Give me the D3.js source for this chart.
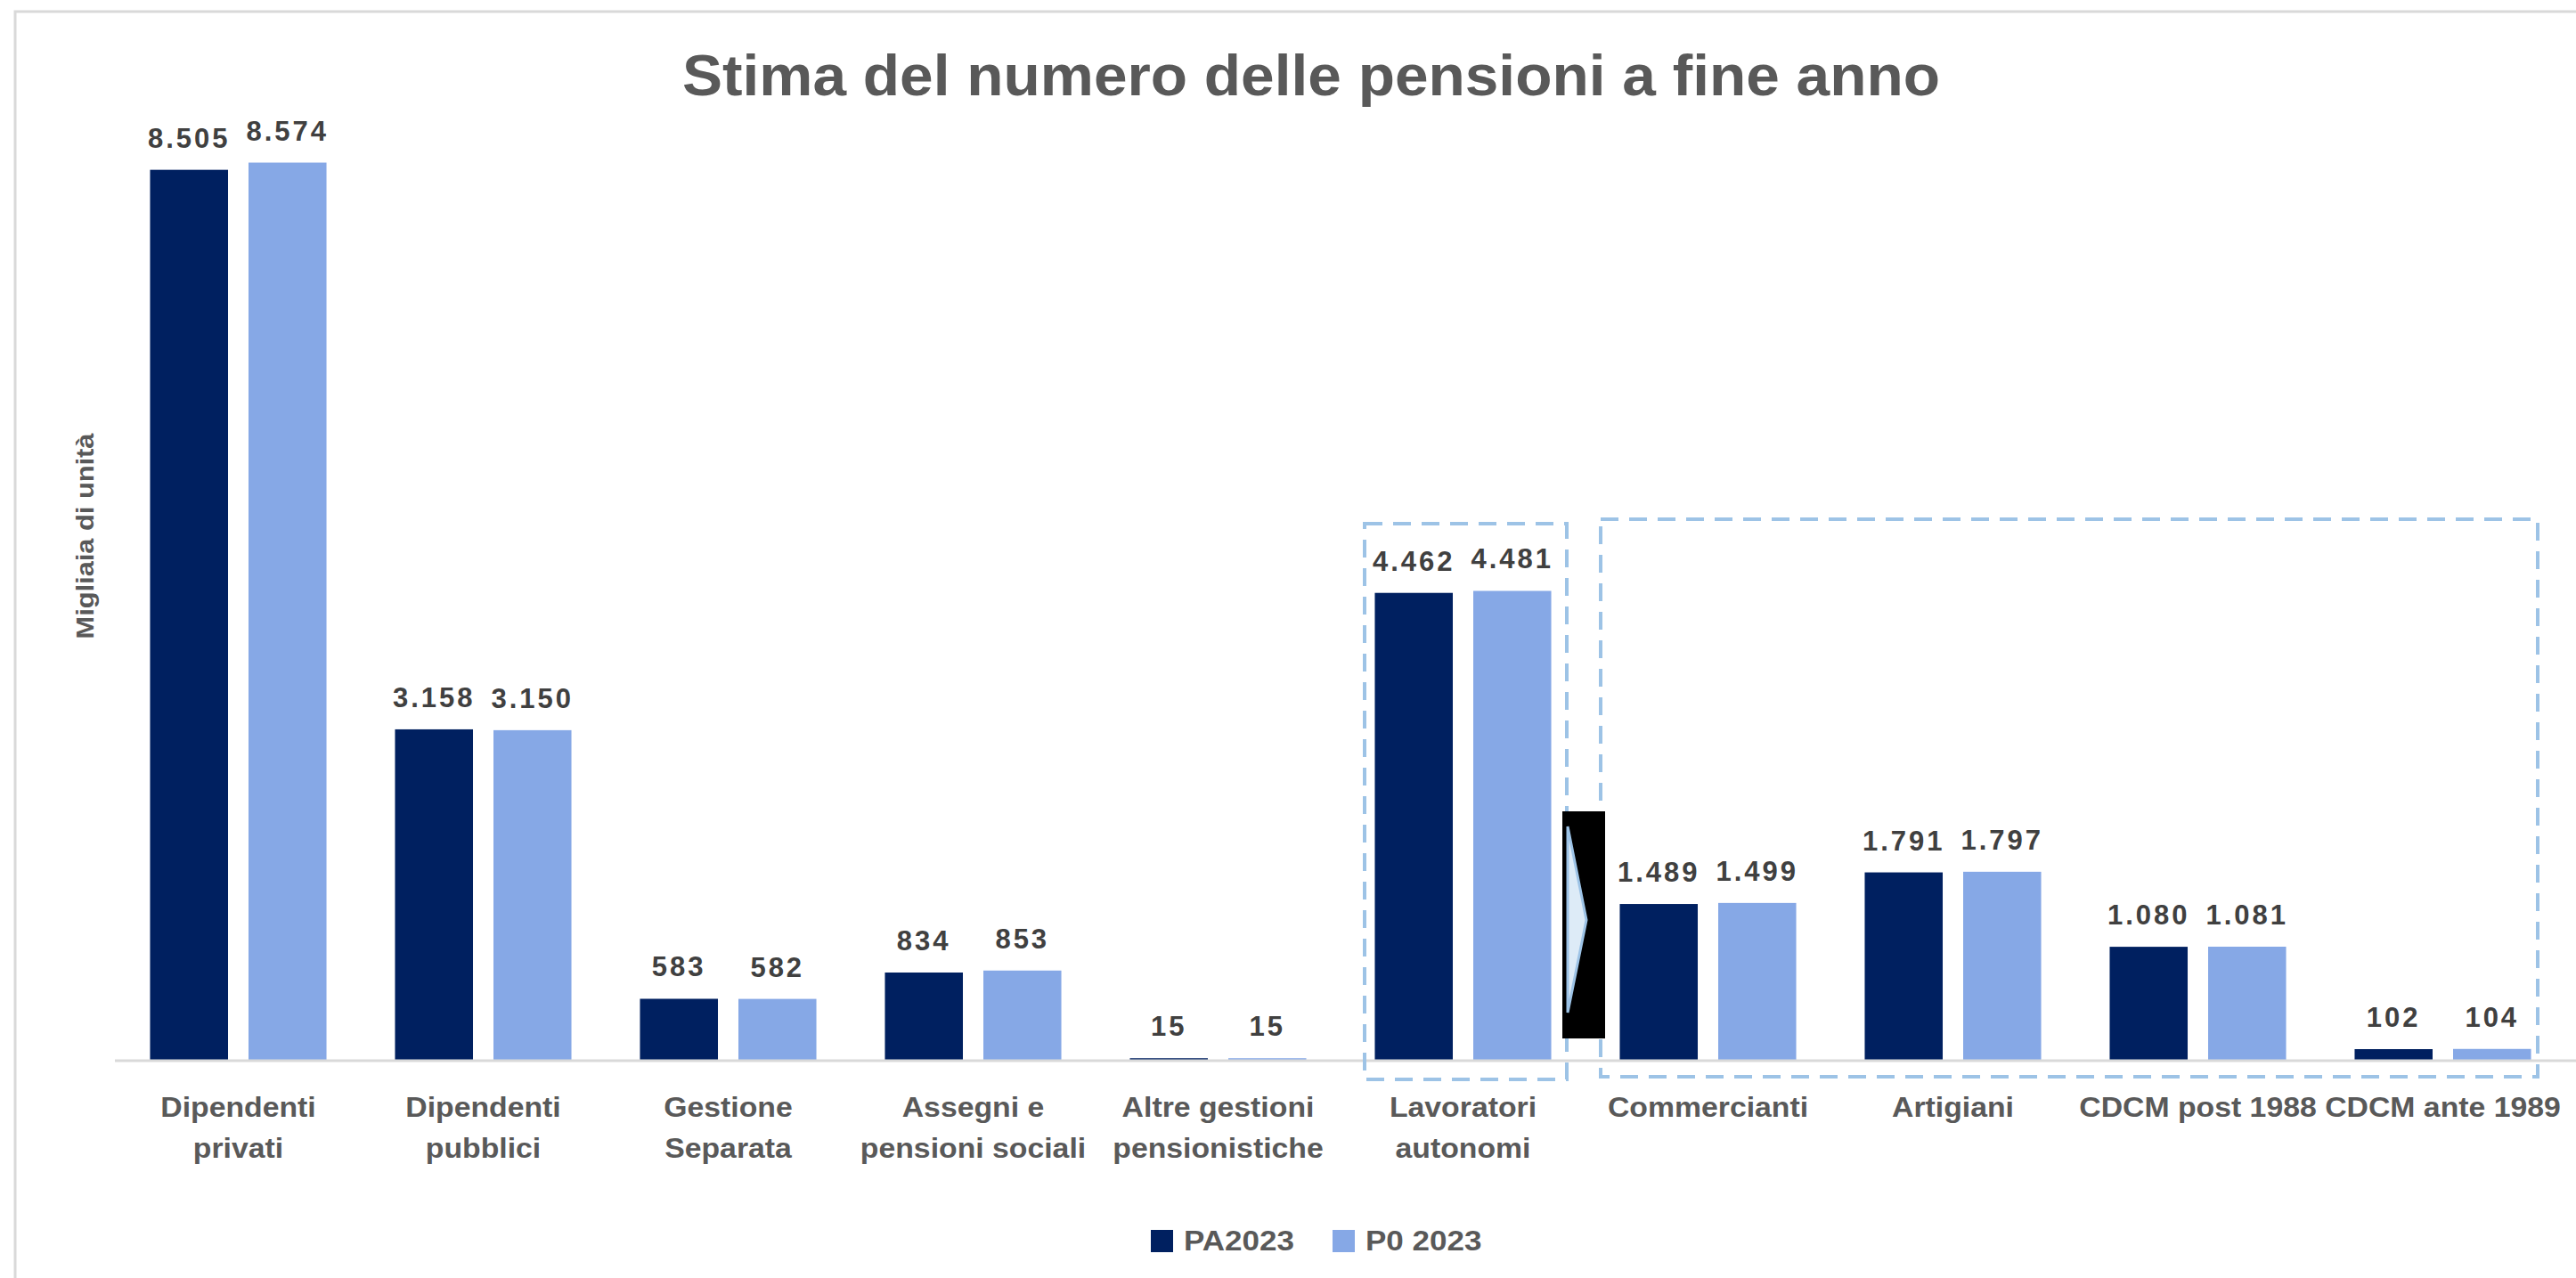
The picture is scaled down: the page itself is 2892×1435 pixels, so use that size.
<!DOCTYPE html>
<html>
<head>
<meta charset="utf-8">
<script src="https://cdn.jsdelivr.net/npm/d3@7"></script>
<style>
  body { margin: 0; background: #fff; }
  text { font-family: "Liberation Sans", Arial, sans-serif; font-weight: bold; }
</style>
</head>
<body>
<div id="chart"></div>
<script>
// data
var categories = ["Dipendenti privati", "Dipendenti pubblici", "Gestione Separata",
  "Assegni e pensioni sociali", "Altre gestioni pensionistiche", "Lavoratori autonomi",
  "Commercianti", "Artigiani", "CDCM post 1988", "CDCM ante 1989"];
var tickLabels = [["Dipendenti", "privati"], ["Dipendenti", "pubblici"], ["Gestione", "Separata"],
  ["Assegni e", "pensioni sociali"], ["Altre gestioni", "pensionistiche"], ["Lavoratori", "autonomi"],
  ["Commercianti"], ["Artigiani"], ["CDCM post 1988"], ["CDCM ante 1989"]];
var seriesNames = ["PA2023", "P0 2023"];
var pa2023 = [8505, 3158, 583, 834, 15, 4462, 1489, 1791, 1080, 102];
var p02023 = [8574, 3150, 582, 853, 15, 4481, 1499, 1797, 1081, 104];

var colors = ["#002060", "#86A8E6"];
var W = 2892, H = 1435;
var base = 1190;
var stretch = 1.09; // the original text is a little wider than Arial

var fmt = d3.formatLocale({decimal: ",", thousands: ".", grouping: [3], currency: ["", "€"]}).format(",d");

var svg = d3.select("#chart").append("svg")
  .attr("width", W).attr("height", H);

// outer frame
svg.append("rect")
  .attr("x", 17).attr("y", 13).attr("width", W + 20).attr("height", H + 20)
  .attr("fill", "none").attr("stroke", "#d9d9d9").attr("stroke-width", 3);

var x = d3.scaleBand().domain(categories).range([130, 2880]);
var xSub = d3.scaleBand().domain(seriesNames).range([0, x.bandwidth()])
  .paddingInner(0.208).paddingOuter(0.348);
var y = d3.scaleLinear().domain([0, 9000]).range([base, base - 9000 * 0.1175]);

// title
svg.append("text")
  .attr("transform", "translate(1472,107) scale(1.04,1)")
  .attr("text-anchor", "middle")
  .attr("font-size", 65)
  .attr("fill", "#595959")
  .text("Stima del numero delle pensioni a fine anno");

// y axis title
svg.append("text")
  .attr("transform", "translate(105,602) rotate(-90) scale(1.1,1)")
  .attr("text-anchor", "middle")
  .attr("font-size", 28)
  .attr("fill", "#595959")
  .text("Migliaia di unità");

var rows = categories.map(function(c, i) {
  return {cat: c, vals: [pa2023[i], p02023[i]]};
});

var groups = svg.selectAll("g.grp")
  .data(rows)
  .enter().append("g")
  .attr("class", "grp")
  .attr("transform", d => "translate(" + x(d.cat) + ",0)");

var bars = groups.selectAll("g.bar")
  .data(d => d.vals.map((v, j) => ({name: seriesNames[j], v: v, j: j})))
  .enter().append("g");

bars.append("rect")
  .attr("x", d => xSub(d.name))
  .attr("width", xSub.bandwidth())
  .attr("y", d => y(d.v))
  .attr("height", d => base - y(d.v))
  .attr("fill", d => colors[d.j]);

bars.append("text")
  .attr("x", d => xSub(d.name) + xSub.bandwidth() / 2)
  .attr("y", d => y(d.v) - 25)
  .attr("text-anchor", "middle")
  .attr("font-size", 31)
  .attr("letter-spacing", 3)
  .attr("fill", "#404040")
  .text(d => fmt(d.v));

// axis line
svg.append("line")
  .attr("x1", 129).attr("x2", W)
  .attr("y1", base + 1).attr("y2", base + 1)
  .attr("stroke", "#d9d9d9").attr("stroke-width", 3);

// category labels
categories.forEach(function(c, i) {
  var cx = x(c) + x.bandwidth() / 2;
  var g = svg.append("g")
    .attr("transform", "translate(" + cx + ",0) scale(" + stretch + ",1)");
  tickLabels[i].forEach(function(line, k) {
    g.append("text")
      .attr("x", 0).attr("y", 1254 + k * 46)
      .attr("text-anchor", "middle")
      .attr("font-size", 31)
      .attr("fill", "#595959")
      .text(line);
  });
});

// dashed highlight boxes
var g5 = x(categories[5]), g6 = x(categories[6]), g9 = x(categories[9]);
svg.append("rect")
  .attr("x", g5 + 27).attr("y", 588)
  .attr("width", x.bandwidth() - 48).attr("height", 624)
  .attr("fill", "none").attr("stroke", "#9DC3E6")
  .attr("stroke-width", 4).attr("stroke-dasharray", "20,12");
svg.append("rect")
  .attr("x", g6 + 17).attr("y", 583)
  .attr("width", g9 + x.bandwidth() - 31 - (g6 + 17)).attr("height", 626)
  .attr("fill", "none").attr("stroke", "#9DC3E6")
  .attr("stroke-width", 4).attr("stroke-dasharray", "20,12");

// arrow marker between the two boxes
var ax = x(categories[6]);
svg.append("rect")
  .attr("x", ax - 26).attr("y", 911)
  .attr("width", 48).attr("height", 255)
  .attr("fill", "#000");
svg.append("path")
  .attr("d", "M" + (ax - 20) + ",928 L" + (ax + 1) + ",1033 L" + (ax - 20) + ",1137 Z")
  .attr("fill", "#DDEBF7").attr("stroke", "#9DC3E6").attr("stroke-width", 3);

// legend
var legend = svg.append("g");
var lx = [1292, 1496];
seriesNames.forEach(function(s, i) {
  legend.append("rect")
    .attr("x", lx[i]).attr("y", 1381)
    .attr("width", 25).attr("height", 25)
    .attr("fill", colors[i]);
  legend.append("text")
    .attr("transform", "translate(" + (lx[i] + 37) + ",1404) scale(1.13,1)")
    .attr("font-size", 31)
    .attr("fill", "#595959")
    .text(s);
});
</script>
</body>
</html>
